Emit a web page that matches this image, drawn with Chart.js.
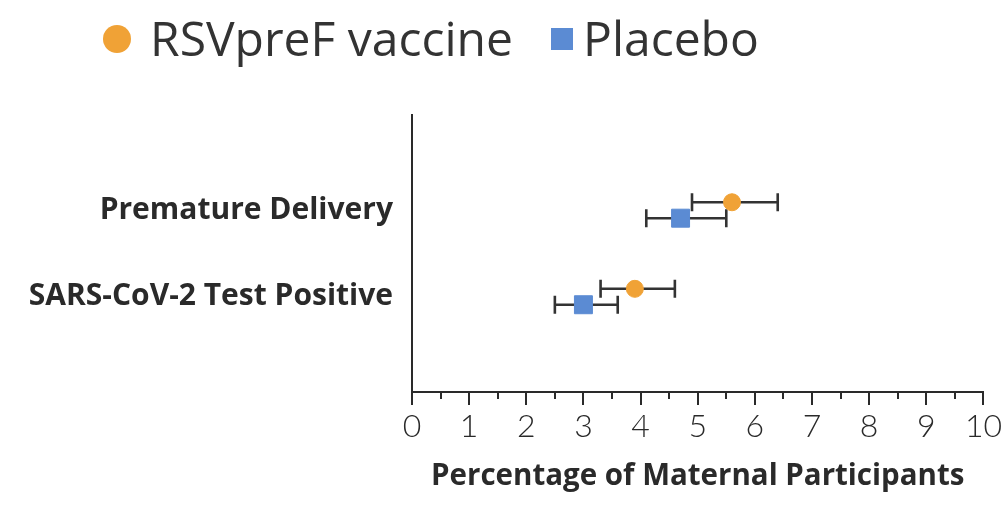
<!DOCTYPE html>
<html>
<head>
<meta charset="utf-8">
<script src="https://cdn.jsdelivr.net/npm/chart.js@4/dist/chart.umd.min.js"></script>
<style>
  html, body { margin: 0; padding: 0; background: #fff; }
  #wrap { width: 1004px; height: 512px; }
</style>
</head>
<body>
<div id="wrap"><canvas id="chart" width="1004" height="512"></canvas></div>
<script>
// datos
const categories = ["Premature Delivery", "SARS-CoV-2 Test Positive"];
const seriesNames = ["RSVpreF vaccine", "Placebo"];
const vaccineVal = [5.6, 3.9];
const vaccineLow = [4.9, 3.3];
const vaccineHigh = [6.4, 4.6];
const placeboVal = [4.7, 3.0];
const placeboLow = [4.1, 2.5];
const placeboHigh = [5.5, 3.6];
const xTicks = [0, 1, 2, 3, 4, 5, 6, 7, 8, 9, 10];

const ORANGE = "#F0A236";
const BLUE = "#5B8BD3";
const INK = "#2a2a2a";
const SANS = "'Open Sans', Lato, sans-serif";
const OFFSET = 0.092; // separación vertical dentro de cada categoría

const vaccinePts = vaccineVal.map((v, i) => ({ x: v, y: i + 1 - OFFSET, lo: vaccineLow[i], hi: vaccineHigh[i] }));
const placeboPts = placeboVal.map((v, i) => ({ x: v, y: i + 1 + OFFSET, lo: placeboLow[i], hi: placeboHigh[i] }));

// barras de error horizontales
const errorBars = {
  id: "errorBars",
  beforeDatasetsDraw(chart) {
    const { ctx, scales: { x, y } } = chart;
    ctx.save();
    ctx.strokeStyle = "#333";
    ctx.lineWidth = 2.6;
    chart.data.datasets.forEach((ds) => {
      ds.data.forEach((p) => {
        const py = y.getPixelForValue(p.y);
        const x1 = x.getPixelForValue(p.lo);
        const x2 = x.getPixelForValue(p.hi);
        ctx.beginPath();
        ctx.moveTo(x1, py); ctx.lineTo(x2, py);
        ctx.moveTo(x1, py - 9); ctx.lineTo(x1, py + 9);
        ctx.moveTo(x2, py - 9); ctx.lineTo(x2, py + 9);
        ctx.stroke();
      });
    });
    ctx.restore();
  },
};

// marcas menores en medios
const minorTicks = {
  id: "minorTicks",
  afterDraw(chart) {
    const { ctx, scales: { x } } = chart;
    ctx.save();
    ctx.strokeStyle = INK;
    ctx.lineWidth = 2;
    for (let i = 0; i < xTicks.length - 1; i++) {
      const px = Math.round(x.getPixelForValue(xTicks[i] + 0.5));
      ctx.beginPath();
      ctx.moveTo(px, x.top);
      ctx.lineTo(px, x.top + 7);
      ctx.stroke();
    }
    ctx.restore();
  },
};

// leyenda superior
const topLegend = {
  id: "topLegend",
  afterDraw(chart) {
    const { ctx } = chart;
    ctx.save();
    ctx.font = "48px " + SANS;
    ctx.textBaseline = "alphabetic";
    ctx.beginPath();
    ctx.fillStyle = ORANGE;
    ctx.arc(117, 39, 14, 0, Math.PI * 2);
    ctx.fill();
    ctx.fillStyle = "#333";
    ctx.fillText(seriesNames[0], 150, 56);
    ctx.fillStyle = BLUE;
    ctx.fillRect(551, 28, 22, 22);
    ctx.fillStyle = "#333";
    ctx.fillText(seriesNames[1], 583, 56);
    ctx.restore();
  },
};

new Chart(document.getElementById("chart"), {
  type: "scatter",
  data: {
    datasets: [
      {
        label: seriesNames[0],
        data: vaccinePts,
        backgroundColor: ORANGE,
        borderColor: ORANGE,
        pointStyle: "circle",
        pointRadius: 8.5,
        pointHoverRadius: 8.5,
      },
      {
        label: seriesNames[1],
        data: placeboPts,
        backgroundColor: BLUE,
        borderColor: BLUE,
        pointStyle: "rect",
        pointRadius: 12.7,
        pointHoverRadius: 12.7,
      },
    ],
  },
  options: {
    responsive: false,
    animation: false,
    layout: { padding: { top: 115, right: 19, left: 0, bottom: 18 } },
    plugins: {
      legend: { display: false },
      tooltip: { enabled: false },
    },
    scales: {
      x: {
        type: "linear",
        min: 0,
        max: 10,
        afterBuildTicks: (s) => { s.ticks = xTicks.map((v) => ({ value: v })); },
        afterFit: (s) => { s.height = 102; },
        border: { display: true, color: INK, width: 2 },
        grid: { drawOnChartArea: false, tickLength: 13, color: INK, lineWidth: 2 },
        ticks: {
          color: INK,
          padding: 2,
          maxRotation: 0,
          font: { family: "Lato, 'Open Sans', sans-serif", size: 32, weight: "300" },
        },
        title: {
          display: true,
          text: "Percentage of Maternal Participants",
          color: INK,
          padding: { top: 8, bottom: 0 },
          font: { family: SANS, size: 29.5, weight: "bold" },
        },
      },
      y: {
        type: "linear",
        reverse: true,
        min: -0.1,
        max: 3.1,
        afterBuildTicks: (s) => { s.ticks = categories.map((c, i) => ({ value: i + 1 })); },
        afterFit: (s) => { s.width = 412; },
        border: { display: true, color: INK, width: 2 },
        grid: { display: false },
        ticks: {
          color: INK,
          padding: 11,
          callback: (v) => categories[v - 1] || "",
          font: { family: SANS, size: 30, weight: "bold" },
        },
      },
    },
  },
  plugins: [errorBars, minorTicks, topLegend],
});
</script>
</body>
</html>
